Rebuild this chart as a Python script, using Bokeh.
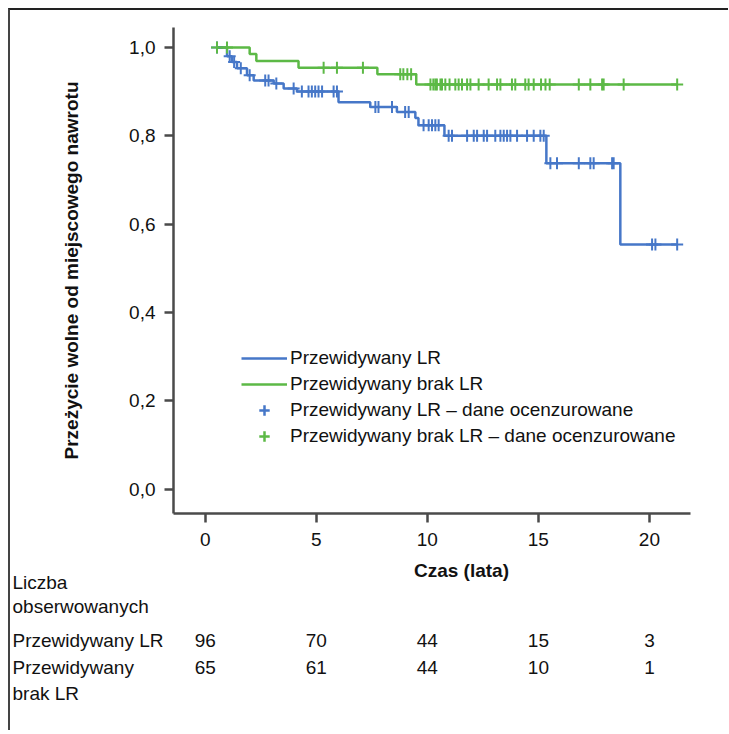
import numpy as np
from bokeh.plotting import figure
from bokeh.layouts import column, row
from bokeh.models import Range1d, FixedTicker, CustomJSTickFormatter, Legend, LegendItem
from bokeh.core.properties import value
from bokeh.embed import file_html
from bokeh.resources import INLINE

FONT = "Liberation Sans"
FS = "19px"

# ---- data ----
blue_t = [0.53, 0.98, 1.2, 1.43, 1.88, 2.18, 3.08, 3.53, 4.13, 6.0, 7.43, 8.63, 9.46, 9.6, 10.77, 15.36, 18.69, 21.25]
blue_s = [1.0, 0.98, 0.967, 0.953, 0.937, 0.925, 0.918, 0.907, 0.90, 0.876, 0.865, 0.854, 0.84, 0.824, 0.80, 0.738, 0.554, 0.554]
blue_cens = [0.53, 1.1, 1.3, 1.6, 2.0, 2.7, 2.85, 3.2, 3.98, 4.35, 4.65, 4.8, 4.95, 5.1, 5.26, 5.78, 5.93,
             7.66, 7.8, 8.41, 9.0, 9.16, 9.83, 10.06, 10.21, 10.36, 10.51,
             10.96, 11.11, 11.79, 12.09, 12.24, 12.54, 12.69, 13.06, 13.29, 13.44, 13.59, 13.74, 14.04,
             14.49, 14.79, 15.09, 15.24, 15.54, 15.84, 16.82, 17.34, 17.49, 18.32, 18.39, 20.12, 20.27, 21.25]

green_t = [0.53, 2.0, 2.3, 4.2, 7.75, 9.5, 21.25]
green_s = [1.0, 0.985, 0.969, 0.954, 0.939, 0.916, 0.916]
green_cens = [0.53, 0.98, 5.33, 5.93, 7.1, 8.78, 8.92, 9.1, 9.27,
              10.14, 10.27, 10.36, 10.43, 10.59, 10.66, 10.81, 11.0, 11.26, 11.41, 11.56, 11.79, 11.94,
              12.31, 12.76, 13.14, 13.29, 13.81, 13.96, 14.41, 14.56, 14.79, 15.12, 15.32, 15.51,
              16.82, 17.34, 17.87, 17.94, 18.84, 21.25]

x_ticks = [0, 5, 10, 15, 20]
y_ticks = [0.0, 0.2, 0.4, 0.6, 0.8, 1.0]
risk_times = [0, 5, 10, 15, 20]
risk_lr = [96, 70, 44, 15, 3]
risk_nolr = [65, 61, 44, 10, 1]

BLUE = "#4677c8"
GREEN = "#5cb946"
AXIS = "#4a4a4a"
TXT = "#111111"


def surv_at(times, surv, q):
    idx = np.searchsorted(np.array(times), np.array(q), side="right") - 1
    idx = np.clip(idx, 0, len(surv) - 1)
    return list(np.array(surv)[idx])


X0, X1 = -1.43, 21.85
Y0, Y1 = -0.055, 1.045
FRAME_W = 517
PAGE_L = 10          # page x of the canvas' left edge
FRAME_L = 173        # page x of the main frame's left edge
W = 718
xs = FRAME_W / (X1 - X0)


def px_x(px):  # page x pixel -> time axis value (for text placement only)
    return X0 + (px - FRAME_L) / xs


p = figure(width=W, height=548, x_range=Range1d(X0, X1), y_range=Range1d(Y0, Y1),
           output_backend="svg", toolbar_location=None,
           min_border_left=163, min_border_right=W - 163 - FRAME_W, min_border_top=17,
           min_border_bottom=45)
p.outline_line_color = None
p.grid.visible = False

blue_cy = surv_at(blue_t, blue_s, blue_cens)
green_cy = surv_at(green_t, green_s, green_cens)

r_bl = p.step(blue_t, blue_s, mode="after", line_color=BLUE, line_width=2.5)
r_gl = p.step(green_t, green_s, mode="after", line_color=GREEN, line_width=2.5)
r_bc = p.scatter(blue_cens, blue_cy, marker="cross", size=12, line_color=BLUE, line_width=2)
r_gc = p.scatter(green_cens, green_cy, marker="cross", size=12, line_color=GREEN, line_width=2)
# thicker crosses used only for the legend swatches (hidden on the plot)
l_bc = p.scatter(blue_cens, blue_cy, marker="cross", size=16, line_color=BLUE, line_width=2.5,
                 visible=False)
l_gc = p.scatter(green_cens, green_cy, marker="cross", size=16, line_color=GREEN, line_width=2.5,
                 visible=False)

for ax in (p.xaxis[0], p.yaxis[0]):
    ax.axis_line_color = AXIS
    ax.axis_line_width = 2.5
    ax.major_tick_line_color = AXIS
    ax.major_tick_line_width = 2.5
    ax.major_tick_out = 9
    ax.major_tick_in = 0
    ax.minor_tick_line_color = None
    ax.major_label_text_font = FONT
    ax.major_label_text_font_size = FS
    ax.major_label_text_color = TXT

p.xaxis.ticker = FixedTicker(ticks=x_ticks)
p.xaxis.major_label_standoff = 10
p.yaxis.ticker = FixedTicker(ticks=y_ticks)
p.yaxis.formatter = CustomJSTickFormatter(code="return tick.toFixed(1).replace('.', ',');")
p.yaxis.major_label_standoff = 9
p.yaxis.axis_label = "Przeżycie wolne od miejscowego nawrotu"
p.yaxis.axis_label_text_font = FONT
p.yaxis.axis_label_text_font_size = FS
p.yaxis.axis_label_text_font_style = "bold"
p.yaxis.axis_label_text_color = TXT
p.yaxis.axis_label_standoff = 44

legend = Legend(items=[
    LegendItem(label="Przewidywany LR", renderers=[r_bl]),
    LegendItem(label="Przewidywany brak LR", renderers=[r_gl]),
    LegendItem(label="Przewidywany LR – dane ocenzurowane", renderers=[l_bc]),
    LegendItem(label="Przewidywany brak LR – dane ocenzurowane", renderers=[l_gc]),
], location=(68, 64))
legend.label_text_font = FONT
legend.label_text_font_size = FS
legend.label_text_color = TXT
legend.glyph_width = 46
legend.glyph_height = 26
legend.label_height = 20
legend.label_standoff = 3
legend.spacing = 0
legend.padding = 0
legend.margin = 0
legend.border_line_color = None
legend.background_fill_alpha = 0
legend.inactive_fill_alpha = 0
p.add_layout(legend)

# ---- number-at-risk table: a second figure sharing the time scale ----
TH = 172
TOP = 558            # page y of the table figure's top edge
tx0 = px_x(PAGE_L)
t = figure(width=W, height=TH, x_range=Range1d(tx0, tx0 + W / xs), y_range=Range1d(TH, 0),
           output_backend="svg", toolbar_location=None,
           min_border_left=0, min_border_right=0, min_border_top=0, min_border_bottom=0)
t.xaxis.visible = False
t.yaxis.visible = False
t.grid.visible = False
t.outline_line_color = None

common = dict(text_font=value(FONT), text_font_size=FS, text_color=TXT, text_baseline="middle")
t.text(x=[px_x(461)], y=[570 - TOP], text=["Czas (lata)"], text_align="center",
       text_font_style="bold", **common)
row_names = ["Liczba", "obserwowanych", "Przewidywany LR", "Przewidywany", "brak LR"]
row_y = [582, 606, 640, 667, 693]
t.text(x=[px_x(12)] * len(row_names), y=[v - TOP for v in row_y], text=row_names,
       text_align="left", **common)
t.text(x=risk_times, y=[640 - TOP] * 5, text=[str(v) for v in risk_lr], text_align="center", **common)
t.text(x=risk_times, y=[667 - TOP] * 5, text=[str(v) for v in risk_nolr], text_align="center", **common)

layout = column(p, row(t), margin=(8, 0, 0, 8),
                styles={"border-top": "2px solid #222", "border-left": "2px solid #444"})

open("out.html", "w").write(file_html(layout, INLINE))
